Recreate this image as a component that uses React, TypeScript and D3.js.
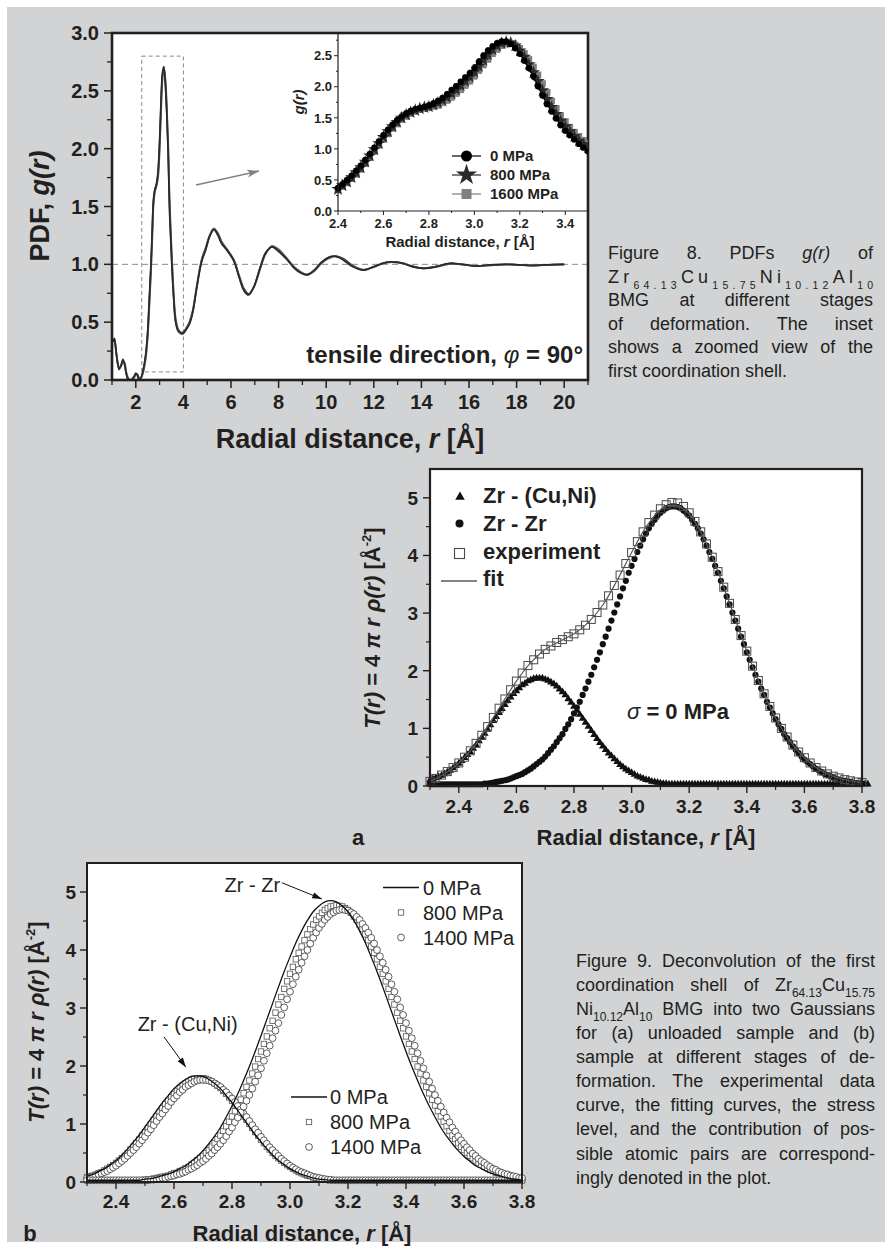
import React from 'react';
import * as d3 from 'd3';

const FONT = "'Liberation Sans', Arial, Helvetica, sans-serif";
const INK = '#231f20';
const BG = '#d1d3d4';

// ---------------- Figure 8: PDF g(r) ----------------
const mainR = [1.05,1.10,1.16,1.22,1.30,1.38,1.46,1.53,1.60,1.68,1.80,1.92,2.00,2.06,2.14,2.22,2.30,2.40,2.49,2.56,2.63,2.69,2.74,2.80,2.86,2.93,3.00,3.06,3.12,3.18,3.24,3.30,3.36,3.42,3.51,3.59,3.67,3.78,3.90,3.98,4.10,4.25,4.39,4.55,4.70,4.79,4.93,5.10,5.28,5.45,5.60,5.84,6.12,6.35,6.55,6.74,6.95,7.23,7.45,7.72,8.00,8.35,8.65,8.90,9.19,9.50,9.80,10.10,10.37,10.70,11.10,11.56,12.00,12.40,12.74,13.20,13.60,14.07,14.60,15.19,15.70,16.30,16.90,17.55,18.10,18.68,19.30,20.00];
const main0 = [0.33,0.36,0.28,0.16,0.09,0.13,0.18,0.13,0.05,0.00,0.00,0.03,0.06,0.04,0.00,0.02,0.08,0.20,0.40,0.68,0.98,1.30,1.56,1.65,1.69,1.80,2.08,2.42,2.66,2.71,2.55,2.30,1.95,1.44,1.00,0.70,0.50,0.42,0.40,0.40,0.43,0.48,0.58,0.78,0.96,1.04,1.12,1.24,1.30,1.25,1.18,1.12,1.03,0.88,0.77,0.735,0.80,0.98,1.10,1.15,1.11,1.04,0.97,0.93,0.91,0.95,1.02,1.06,1.07,1.04,0.98,0.95,0.98,1.01,1.02,1.01,0.98,0.965,0.98,1.01,1.00,0.985,0.995,1.00,0.995,0.99,0.995,1.00];
const main800 = [0.34,0.35,0.27,0.17,0.10,0.12,0.17,0.14,0.06,0.01,0.00,0.02,0.05,0.05,0.01,0.02,0.07,0.18,0.37,0.64,0.94,1.26,1.53,1.64,1.68,1.77,2.03,2.37,2.63,2.70,2.58,2.34,2.00,1.50,1.05,0.73,0.52,0.43,0.41,0.41,0.44,0.49,0.59,0.79,0.97,1.05,1.13,1.24,1.30,1.26,1.19,1.12,1.03,0.89,0.78,0.74,0.80,0.97,1.09,1.15,1.12,1.05,0.97,0.93,0.91,0.95,1.01,1.06,1.07,1.05,0.99,0.95,0.98,1.01,1.02,1.01,0.985,0.965,0.98,1.005,1.00,0.985,0.995,1.00,0.995,0.99,0.995,1.00];
const main1600 = [0.35,0.34,0.26,0.18,0.11,0.12,0.16,0.15,0.07,0.02,0.00,0.02,0.05,0.05,0.02,0.02,0.06,0.16,0.34,0.60,0.90,1.22,1.50,1.62,1.67,1.74,1.98,2.32,2.60,2.69,2.61,2.38,2.05,1.56,1.10,0.76,0.54,0.44,0.41,0.41,0.44,0.50,0.60,0.80,0.98,1.06,1.14,1.25,1.31,1.27,1.20,1.13,1.04,0.90,0.79,0.745,0.80,0.96,1.09,1.16,1.13,1.05,0.98,0.94,0.91,0.94,1.01,1.05,1.07,1.05,0.99,0.955,0.975,1.01,1.02,1.01,0.985,0.965,0.975,1.005,1.00,0.985,0.99,1.00,0.995,0.99,0.995,1.00];
const mainXTicks = [2,4,6,8,10,12,14,16,18,20];
const mainXMinor = [1,3,5,7,9,11,13,15,17,19,21];
const mainYTicks = [0,0.5,1,1.5,2,2.5,3];
const mainYMinor = [0.25,0.75,1.25,1.75,2.25,2.75];

// inset (first coordination shell)
const insetR = [2.40,2.42,2.44,2.46,2.48,2.50,2.52,2.54,2.56,2.58,2.60,2.62,2.64,2.66,2.68,2.70,2.72,2.74,2.76,2.78,2.80,2.82,2.84,2.86,2.88,2.90,2.92,2.94,2.96,2.98,3.00,3.02,3.04,3.06,3.08,3.10,3.12,3.14,3.16,3.18,3.20,3.22,3.24,3.26,3.28,3.30,3.32,3.34,3.36,3.38,3.40,3.42,3.44,3.46,3.48,3.50];
const inset0 = [0.37,0.43,0.50,0.57,0.65,0.73,0.82,0.92,1.02,1.12,1.22,1.31,1.39,1.46,1.52,1.57,1.61,1.64,1.66,1.68,1.70,1.73,1.77,1.82,1.88,1.95,2.01,2.08,2.15,2.22,2.30,2.40,2.50,2.58,2.65,2.70,2.73,2.73,2.69,2.62,2.53,2.42,2.30,2.17,2.01,1.86,1.72,1.60,1.49,1.38,1.29,1.22,1.15,1.08,1.02,0.96];
const inset800 = [0.35,0.41,0.47,0.54,0.62,0.70,0.79,0.89,0.99,1.09,1.19,1.28,1.36,1.43,1.50,1.55,1.59,1.62,1.65,1.67,1.68,1.71,1.74,1.78,1.83,1.89,1.95,2.02,2.09,2.16,2.24,2.33,2.43,2.52,2.60,2.66,2.70,2.72,2.71,2.66,2.58,2.48,2.36,2.23,2.09,1.94,1.80,1.67,1.56,1.45,1.36,1.28,1.20,1.13,1.07,1.02];
const inset1600 = [0.34,0.39,0.45,0.52,0.59,0.67,0.76,0.86,0.96,1.06,1.15,1.24,1.33,1.40,1.47,1.52,1.57,1.60,1.63,1.65,1.66,1.68,1.70,1.74,1.78,1.83,1.89,1.95,2.02,2.09,2.17,2.26,2.35,2.44,2.53,2.60,2.66,2.69,2.69,2.67,2.62,2.54,2.44,2.32,2.19,2.05,1.91,1.77,1.65,1.54,1.44,1.35,1.27,1.20,1.14,1.09];
const insetXTicks = [2.4,2.6,2.8,3.0,3.2,3.4];
const insetXMinor = [2.5,2.7,2.9,3.1,3.3,3.5];
const insetYTicks = [0,0.5,1,1.5,2,2.5];
const insetYMinor = [0.25,0.75,1.25,1.75,2.25,2.75];
const insetLegend = ['0 MPa', '800 MPa', '1600 MPa'];

// ---------------- Figure 9: deconvolution ----------------
// sampling grids (start / step of the r values of each series)
const R0 = 2.30;
const STEP_FINE = 0.01;
const STEP_MID = 0.02;
const STEP_FIT = 0.05;

// (a) sigma = 0 MPa
const aZrCuNi = [0.10,0.12,0.14,0.16,0.18,0.21,0.24,0.27,0.31,0.35,0.39,0.44,0.49,0.54,0.59,0.65,0.71,0.78,0.84,0.91,0.98,1.06,1.13,1.20,1.27,1.34,1.41,1.48,1.54,1.60,1.65,1.70,1.75,1.78,1.82,1.84,1.86,1.87,1.87,1.87,1.85,1.83,1.80,1.77,1.73,1.68,1.63,1.58,1.51,1.45,1.38,1.31,1.24,1.17,1.10,1.03,0.96,0.89,0.82,0.75,0.69,0.63,0.57,0.52,0.47,0.42,0.37,0.33,0.29,0.26,0.23,0.20,0.17,0.15,0.13,0.11,0.10,0.08,0.07,0.06,0.05,0.04,0.04,0.03,0.03,0.03,0.03,0.03,0.03,0.03,0.03,0.03,0.03,0.03,0.03,0.03,0.03,0.03,0.03,0.03,0.03,0.03,0.03,0.03,0.03,0.03,0.03,0.03,0.03,0.03,0.03,0.03,0.03,0.03,0.03,0.03,0.03,0.03,0.03,0.03,0.03,0.03,0.03,0.03,0.03,0.03,0.03,0.03,0.03,0.03,0.03,0.03,0.03,0.03,0.03,0.03,0.03,0.03,0.03,0.03,0.03,0.03,0.03,0.03,0.03,0.03,0.03,0.03,0.03,0.03,0.03,0.03,0.03];
const aZrZr = [0.03,0.03,0.03,0.03,0.03,0.03,0.03,0.03,0.03,0.03,0.03,0.03,0.03,0.03,0.03,0.03,0.03,0.03,0.03,0.04,0.04,0.05,0.06,0.07,0.08,0.09,0.10,0.11,0.13,0.15,0.17,0.19,0.21,0.24,0.27,0.30,0.34,0.38,0.42,0.46,0.51,0.57,0.63,0.69,0.76,0.83,0.90,0.99,1.07,1.16,1.26,1.36,1.46,1.58,1.69,1.81,1.93,2.06,2.19,2.32,2.46,2.59,2.73,2.87,3.01,3.15,3.29,3.43,3.56,3.70,3.82,3.94,4.06,4.17,4.28,4.38,4.47,4.55,4.62,4.69,4.74,4.78,4.82,4.84,4.85,4.85,4.84,4.82,4.78,4.74,4.69,4.62,4.55,4.47,4.38,4.28,4.17,4.06,3.94,3.82,3.70,3.56,3.43,3.29,3.15,3.01,2.87,2.73,2.59,2.46,2.32,2.19,2.06,1.93,1.81,1.69,1.58,1.46,1.36,1.26,1.16,1.07,0.99,0.90,0.83,0.76,0.69,0.63,0.57,0.51,0.46,0.42,0.38,0.34,0.30,0.27,0.24,0.21,0.19,0.17,0.15,0.13,0.11,0.10,0.09,0.08,0.07,0.06,0.05,0.04,0.04];
const aExperiment = [0.08,0.13,0.19,0.25,0.32,0.40,0.50,0.61,0.74,0.88,1.03,1.19,1.35,1.51,1.67,1.82,1.96,2.09,2.19,2.29,2.37,2.43,2.49,2.54,2.59,2.64,2.71,2.79,2.89,3.01,3.14,3.30,3.48,3.66,3.86,4.05,4.24,4.41,4.57,4.70,4.81,4.88,4.92,4.91,4.85,4.74,4.59,4.41,4.20,3.97,3.72,3.45,3.17,2.89,2.61,2.34,2.08,1.83,1.60,1.38,1.18,1.00,0.85,0.71,0.59,0.49,0.40,0.32,0.26,0.21,0.17,0.14,0.11,0.09,0.07,0.06];
const aFit = [0.08,0.21,0.40,0.67,1.03,1.43,1.82,2.14,2.37,2.51,2.64,2.84,3.14,3.57,4.05,4.49,4.79,4.87,4.72,4.31,3.72,3.03,2.34,1.71,1.18,0.78,0.49,0.29,0.17,0.10,0.06];
const aLegend = ['Zr - (Cu,Ni)', 'Zr - Zr', 'experiment', 'fit'];

// (b) 0, 800 and 1400 MPa
const b0CuNi = [0.10,0.13,0.18,0.23,0.30,0.37,0.46,0.57,0.69,0.81,0.95,1.09,1.23,1.37,1.49,1.61,1.70,1.77,1.82,1.83,1.82,1.77,1.70,1.61,1.49,1.37,1.23,1.09,0.95,0.81,0.69,0.57,0.46,0.37,0.30,0.23,0.18,0.13,0.10,0.07,0.05,0.04,0.03,0.03,0.03,0.03,0.03,0.03,0.03,0.03,0.03,0.03,0.03,0.03,0.03,0.03,0.03,0.03,0.03,0.03,0.03,0.03,0.03,0.03,0.03,0.03,0.03,0.03,0.03,0.03,0.03,0.03,0.03,0.03,0.03,0.03];
const b0ZrZr = [0.03,0.03,0.03,0.03,0.03,0.03,0.03,0.03,0.03,0.03,0.05,0.06,0.08,0.11,0.14,0.18,0.23,0.28,0.36,0.44,0.54,0.66,0.79,0.94,1.12,1.31,1.52,1.75,1.99,2.25,2.52,2.80,3.08,3.36,3.63,3.88,4.12,4.33,4.51,4.66,4.76,4.83,4.85,4.83,4.76,4.66,4.51,4.33,4.12,3.88,3.63,3.36,3.08,2.80,2.52,2.25,1.99,1.75,1.52,1.31,1.12,0.94,0.79,0.66,0.54,0.44,0.36,0.28,0.23,0.18,0.14,0.11,0.08,0.06,0.05,0.03];
const b800CuNi = [0.08,0.10,0.11,0.13,0.15,0.17,0.20,0.23,0.26,0.29,0.33,0.37,0.41,0.45,0.50,0.56,0.61,0.67,0.73,0.80,0.86,0.93,1.00,1.07,1.13,1.20,1.27,1.34,1.40,1.46,1.52,1.57,1.62,1.66,1.70,1.73,1.76,1.78,1.79,1.79,1.79,1.78,1.76,1.73,1.70,1.66,1.62,1.57,1.52,1.46,1.40,1.34,1.27,1.20,1.13,1.07,1.00,0.93,0.86,0.80,0.73,0.67,0.61,0.56,0.50,0.45,0.41,0.37,0.33,0.29,0.26,0.23,0.20,0.17,0.15,0.13,0.11,0.10,0.08,0.07,0.06,0.05,0.04,0.04,0.03,0.03,0.03,0.03,0.03,0.03,0.03,0.03,0.03,0.03,0.03,0.03,0.03,0.03,0.03,0.03,0.03,0.03,0.03,0.03,0.03,0.03,0.03,0.03,0.03,0.03,0.03,0.03,0.03,0.03,0.03,0.03,0.03,0.03,0.03,0.03,0.03,0.03,0.03,0.03,0.03,0.03,0.03,0.03,0.03,0.03,0.03,0.03,0.03,0.03,0.03,0.03,0.03,0.03,0.03,0.03,0.03,0.03,0.03,0.03,0.03,0.03,0.03,0.03,0.03,0.03,0.03];
const b800ZrZr = [0.03,0.03,0.03,0.03,0.03,0.03,0.03,0.03,0.03,0.03,0.03,0.03,0.03,0.03,0.03,0.03,0.03,0.03,0.03,0.03,0.04,0.04,0.05,0.06,0.07,0.08,0.09,0.10,0.11,0.13,0.15,0.16,0.19,0.21,0.24,0.26,0.30,0.33,0.37,0.41,0.45,0.50,0.55,0.61,0.67,0.74,0.80,0.88,0.96,1.04,1.13,1.22,1.32,1.42,1.53,1.64,1.75,1.87,1.99,2.12,2.25,2.38,2.51,2.65,2.78,2.92,3.06,3.19,3.33,3.46,3.59,3.71,3.84,3.95,4.06,4.17,4.27,4.36,4.44,4.52,4.58,4.64,4.69,4.72,4.75,4.76,4.77,4.76,4.75,4.72,4.69,4.64,4.58,4.52,4.44,4.36,4.27,4.17,4.06,3.95,3.84,3.71,3.59,3.46,3.33,3.19,3.06,2.92,2.78,2.65,2.51,2.38,2.25,2.12,1.99,1.87,1.75,1.64,1.53,1.42,1.32,1.22,1.13,1.04,0.96,0.88,0.80,0.74,0.67,0.61,0.55,0.50,0.45,0.41,0.37,0.33,0.30,0.26,0.24,0.21,0.19,0.16,0.15,0.13,0.11,0.10,0.09,0.08,0.07,0.06,0.05];
const b1400CuNi = [0.07,0.08,0.09,0.11,0.13,0.15,0.17,0.19,0.22,0.25,0.28,0.32,0.36,0.40,0.45,0.50,0.55,0.60,0.66,0.72,0.78,0.85,0.91,0.98,1.05,1.12,1.18,1.25,1.31,1.38,1.44,1.49,1.55,1.59,1.64,1.67,1.70,1.73,1.75,1.76,1.76,1.76,1.75,1.73,1.70,1.67,1.64,1.59,1.55,1.49,1.44,1.38,1.31,1.25,1.18,1.12,1.05,0.98,0.91,0.85,0.78,0.72,0.66,0.60,0.55,0.50,0.45,0.40,0.36,0.32,0.28,0.25,0.22,0.19,0.17,0.15,0.13,0.11,0.09,0.08,0.07,0.06,0.05,0.04,0.04,0.03,0.03,0.03,0.03,0.03,0.03,0.03,0.03,0.03,0.03,0.03,0.03,0.03,0.03,0.03,0.03,0.03,0.03,0.03,0.03,0.03,0.03,0.03,0.03,0.03,0.03,0.03,0.03,0.03,0.03,0.03,0.03,0.03,0.03,0.03,0.03,0.03,0.03,0.03,0.03,0.03,0.03,0.03,0.03,0.03,0.03,0.03,0.03,0.03,0.03,0.03,0.03,0.03,0.03,0.03,0.03,0.03,0.03,0.03,0.03,0.03,0.03,0.03,0.03,0.03,0.03];
const b1400ZrZr = [0.03,0.03,0.03,0.03,0.03,0.03,0.03,0.03,0.03,0.03,0.03,0.03,0.03,0.03,0.03,0.03,0.03,0.03,0.03,0.03,0.03,0.03,0.04,0.04,0.05,0.06,0.07,0.07,0.09,0.10,0.11,0.13,0.14,0.16,0.18,0.21,0.23,0.26,0.29,0.33,0.36,0.40,0.45,0.49,0.55,0.60,0.66,0.72,0.79,0.87,0.94,1.03,1.11,1.20,1.30,1.40,1.50,1.61,1.73,1.84,1.96,2.09,2.22,2.35,2.48,2.61,2.74,2.88,3.01,3.15,3.28,3.41,3.54,3.66,3.78,3.89,4.00,4.11,4.21,4.30,4.38,4.45,4.52,4.57,4.62,4.65,4.68,4.69,4.70,4.69,4.68,4.65,4.62,4.57,4.52,4.45,4.38,4.30,4.21,4.11,4.00,3.89,3.78,3.66,3.54,3.41,3.28,3.15,3.01,2.88,2.74,2.61,2.48,2.35,2.22,2.09,1.96,1.84,1.73,1.61,1.50,1.40,1.30,1.20,1.11,1.03,0.94,0.87,0.79,0.72,0.66,0.60,0.55,0.49,0.45,0.40,0.36,0.33,0.29,0.26,0.23,0.21,0.18,0.16,0.14,0.13,0.11,0.10,0.09,0.07,0.07];
const bLegend = ['0 MPa', '800 MPa', '1400 MPa'];

const devXTicks = [2.4,2.6,2.8,3.0,3.2,3.4,3.6,3.8];
const devXMinor = [2.3,2.5,2.7,2.9,3.1,3.3,3.5,3.7];
const devYTicks = [0,1,2,3,4,5];
const devYMinor = [0.5,1.5,2.5,3.5,4.5];

// ---------------- captions ----------------
type Seg = { t: string; sub?: boolean; it?: boolean };
const cap8: { segs: Seg[]; mode: string }[] = [
  { segs: [{ t: 'Figure 8. PDFs ' }, { t: 'g(r)', it: true }, { t: ' of' }], mode: 'word' },
  { segs: [{ t: 'Zr' }, { t: '64.13', sub: true }, { t: 'Cu' }, { t: '15.75', sub: true }, { t: 'Ni' }, { t: '10.12', sub: true }, { t: 'Al' }, { t: '10', sub: true }], mode: 'letter' },
  { segs: [{ t: 'BMG at different stages' }], mode: 'word' },
  { segs: [{ t: 'of deformation. The inset' }], mode: 'word' },
  { segs: [{ t: 'shows a zoomed view of the' }], mode: 'word' },
  { segs: [{ t: 'first coordination shell.' }], mode: 'none' },
];
const cap9: { segs: Seg[]; mode: string }[] = [
  { segs: [{ t: 'Figure 9. Deconvolution of the first' }], mode: 'word' },
  { segs: [{ t: 'coordination shell of Zr' }, { t: '64.13', sub: true }, { t: 'Cu' }, { t: '15.75', sub: true }], mode: 'word' },
  { segs: [{ t: 'Ni' }, { t: '10.12', sub: true }, { t: 'Al' }, { t: '10', sub: true }, { t: ' BMG into two Gaussians' }], mode: 'word' },
  { segs: [{ t: 'for (a) unloaded sample and (b)' }], mode: 'word' },
  { segs: [{ t: 'sample at different stages of de-' }], mode: 'word' },
  { segs: [{ t: 'formation. The experimental data' }], mode: 'word' },
  { segs: [{ t: 'curve, the fitting curves, the stress' }], mode: 'word' },
  { segs: [{ t: 'level, and the contribution of pos-' }], mode: 'word' },
  { segs: [{ t: 'sible atomic pairs are correspond-' }], mode: 'word' },
  { segs: [{ t: 'ingly denoted in the plot.' }], mode: 'none' },
];

let measureCtx: CanvasRenderingContext2D | null = null;
function textW(s: string, font: string): number {
  if (!measureCtx) measureCtx = document.createElement('canvas').getContext('2d');
  if (!measureCtx) return s.length * 9;
  measureCtx.font = font;
  return measureCtx.measureText(s).width;
}

function CapLine({ segs, mode, x, y, width, size, subSize, subDy }: any) {
  const fontOf = (s: Seg) => `${s.it ? 'italic ' : ''}${s.sub ? subSize : size}px 'Liberation Sans'`;
  const w = segs.reduce((a: number, s: Seg) => a + textW(s.t, fontOf(s)), 0);
  const style: any = {};
  if (mode === 'word') {
    const n = segs.reduce((a: number, s: Seg) => a + (s.t.match(/ /g) || []).length, 0);
    if (n > 0) style.wordSpacing = `${(width - w) / n}px`;
  } else if (mode === 'letter') {
    const n = segs.reduce((a: number, s: Seg) => a + s.t.length, 0);
    style.letterSpacing = `${(width - w) / (n - 1)}px`;
  }
  let inSub = false;
  return (
    <text x={x} y={y} fontSize={size} fill={INK} style={{ ...style, whiteSpace: 'pre' }} fontFamily={FONT}>
      {segs.map((s: Seg, i: number) => {
        let dy = 0;
        if (s.sub && !inSub) { dy = subDy; inSub = true; }
        else if (!s.sub && inSub) { dy = -subDy; inSub = false; }
        return (
          <tspan key={i} dy={dy} fontSize={s.sub ? subSize : size} fontStyle={s.it ? 'italic' : 'normal'}>{s.t}</tspan>
        );
      })}
    </text>
  );
}

const fmt1 = d3.format('.1f');
const fmt0 = d3.format('d');

export default function App() {
  // main scales
  const mx = d3.scaleLinear().domain([1, 21]).range([112, 588]);
  const my = d3.scaleLinear().domain([0, 3]).range([380, 33]);
  // inset scales
  const ix = d3.scaleLinear().domain([2.4, 3.5]).range([338, 588]);
  const iy = d3.scaleLinear().domain([0, 2.5]).range([211, 55.7]);
  // fig 9a
  const ax = d3.scaleLinear().domain([2.3, 3.8]).range([430, 862]);
  const ay = d3.scaleLinear().domain([0, 5.5]).range([786, 469]);
  // fig 9b
  const bx = d3.scaleLinear().domain([2.3, 3.8]).range([87, 522]);
  const by = d3.scaleLinear().domain([0, 5.5]).range([1182, 863]);

  const rFine = (i: number) => R0 + i * STEP_FINE;
  const rMid = (i: number) => R0 + i * STEP_MID;
  const rFit = (i: number) => R0 + i * STEP_FIT;

  const mkLine = (rx: (i: number) => number, sx: any, sy: any, curve: any = d3.curveMonotoneX) =>
    (vals: number[]) => d3.line<number>().x((_, i) => sx(rx(i))).y((d) => sy(d)).curve(curve)(vals) || '';

  const mainLine = mkLine((i) => mainR[i], mx, my, d3.curveCatmullRom.alpha(0.5));
  const insetLine = mkLine((i) => insetR[i], ix, iy, d3.curveLinear);

  const triPath = d3.symbol().type(d3.symbolTriangle).size(26)() || '';
  const starSmall = d3.symbol().type(d3.symbolStar).size(55)() || '';
  const starBig = d3.symbol().type(d3.symbolStar).size(140)() || '';
  const triLegend = d3.symbol().type(d3.symbolTriangle).size(40)() || '';

  const insetSeries = [
    { vals: inset1600, color: '#7d7d7d', kind: 'square' },
    { vals: inset800, color: '#333333', kind: 'star' },
    { vals: inset0, color: '#000000', kind: 'circle' },
  ];

  const boldT = { fontWeight: 'bold' as const, fill: INK };

  return (
    <svg width={885} height={1249} style={{ position: 'absolute', left: 0, top: 0 }} fontFamily={FONT}>
      <defs>
        <clipPath id="mainClip"><rect x={112} y={33} width={476} height={347} /></clipPath>
        <clipPath id="insetClip"><rect x={320} y={33} width={268} height={190} /></clipPath>
        <marker id="arrGray" viewBox="0 0 12 10" refX="12" refY="5" markerWidth="13" markerHeight="10" orient="auto" markerUnits="userSpaceOnUse">
          <path d="M0,1 L12,5 L0,9 L3,5 z" fill="#808080" />
        </marker>
        <marker id="arrBlk" viewBox="0 0 12 10" refX="12" refY="5" markerWidth="11" markerHeight="8" orient="auto" markerUnits="userSpaceOnUse">
          <path d="M0,1 L12,5 L0,9 z" fill="#111" />
        </marker>
      </defs>

      <rect x={7} y={7} width={878} height={1235} fill={BG} />

      {/* ================= Figure 8 main plot ================= */}
      <rect x={112} y={33} width={476} height={347} fill="#fff" />
      <line x1={mx(1)} x2={mx(21)} y1={my(1)} y2={my(1)} stroke="#8a8a8a" strokeWidth={1} strokeDasharray="6,4" />
      <rect x={mx(2.25)} y={my(2.8)} width={mx(4.0) - mx(2.25)} height={my(0.07) - my(2.8)} fill="none" stroke="#8a8a8a" strokeWidth={1} strokeDasharray="4,3" />
      <g clipPath="url(#mainClip)">
        <path d={mainLine(main1600)} fill="none" stroke="#6e6e6e" strokeWidth={1.8} />
        <path d={mainLine(main800)} fill="none" stroke="#4a4a4a" strokeWidth={1.8} />
        <path d={mainLine(main0)} fill="none" stroke="#2a2a2a" strokeWidth={1.6} />
      </g>
      <line x1={mx(4.53)} y1={my(1.686)} x2={mx(7.18)} y2={my(1.807)} stroke="#808080" strokeWidth={1.5} markerEnd="url(#arrGray)" />

      {/* main axes */}
      {mainYTicks.map((v) => (
        <g key={'my' + v}>
          <line x1={104} x2={112} y1={my(v)} y2={my(v)} stroke={INK} strokeWidth={1.5} />
          <text x={99} y={my(v) + 7} textAnchor="end" fontSize={20} {...boldT}>{fmt1(v)}</text>
        </g>
      ))}
      {mainYMinor.map((v) => (
        <line key={'mym' + v} x1={107} x2={112} y1={my(v)} y2={my(v)} stroke={INK} strokeWidth={1.3} />
      ))}
      {mainXTicks.map((v) => (
        <g key={'mx' + v}>
          <line x1={mx(v)} x2={mx(v)} y1={380} y2={388} stroke={INK} strokeWidth={1.5} />
          <text x={mx(v)} y={409} textAnchor="middle" fontSize={20} {...boldT}>{v}</text>
        </g>
      ))}
      {mainXMinor.map((v) => (
        <line key={'mxm' + v} x1={mx(v)} x2={mx(v)} y1={380} y2={385} stroke={INK} strokeWidth={1.3} />
      ))}
      <rect x={112} y={33} width={476} height={347} fill="none" stroke={INK} strokeWidth={2.6} />
      <text x={350} y={448} textAnchor="middle" fontSize={27} {...boldT}>
        Radial distance, <tspan fontStyle="italic">r</tspan> [Å]
      </text>
      <text transform="translate(49,206) rotate(-90)" textAnchor="middle" fontSize={27} {...boldT}>
        PDF, <tspan fontStyle="italic">g(r)</tspan>
      </text>
      <text x={583} y={363} textAnchor="end" fontSize={24} {...boldT}>
        tensile direction, <tspan fontStyle="italic" fontWeight="normal">φ</tspan> = 90°
      </text>

      {/* ================= inset ================= */}
      <g clipPath="url(#insetClip)">
        {insetSeries.map((s, k) => (
          <g key={'is' + k}>
            <path d={insetLine(s.vals)} fill="none" stroke={s.color} strokeWidth={1} />
            {s.vals.map((v, i) => {
              const cx = ix(insetR[i]);
              const cy = iy(v);
              if (s.kind === 'circle') return <circle key={i} cx={cx} cy={cy} r={3.2} fill="#000" />;
              if (s.kind === 'star') return <path key={i} d={starSmall} transform={`translate(${cx},${cy})`} fill="#2a2a2a" />;
              return <rect key={i} x={cx - 3} y={cy - 3} width={6} height={6} fill="#808080" stroke="#6a6a6a" strokeWidth={0.5} />;
            })}
          </g>
        ))}
      </g>
      <line x1={338} x2={338} y1={33} y2={211} stroke={INK} strokeWidth={1.2} />
      <line x1={338} x2={588} y1={211} y2={211} stroke={INK} strokeWidth={1.2} />
      {insetYTicks.map((v) => (
        <g key={'iy' + v}>
          <line x1={334} x2={338} y1={iy(v)} y2={iy(v)} stroke={INK} strokeWidth={1} />
          <text x={332} y={iy(v) + 4.7} textAnchor="end" fontSize={13} {...boldT}>{fmt1(v)}</text>
        </g>
      ))}
      {insetYMinor.map((v) => (
        <line key={'iym' + v} x1={336} x2={338} y1={iy(v)} y2={iy(v)} stroke={INK} strokeWidth={1} />
      ))}
      {insetXTicks.map((v) => (
        <g key={'ix' + v}>
          <line x1={ix(v)} x2={ix(v)} y1={211} y2={215} stroke={INK} strokeWidth={1} />
          <text x={ix(v)} y={228} textAnchor="middle" fontSize={13} {...boldT}>{fmt1(v)}</text>
        </g>
      ))}
      {insetXMinor.map((v) => (
        <line key={'ixm' + v} x1={ix(v)} x2={ix(v)} y1={211} y2={213} stroke={INK} strokeWidth={1} />
      ))}
      <text x={460} y={247} textAnchor="middle" fontSize={15} {...boldT}>
        Radial distance, <tspan fontStyle="italic">r</tspan> [Å]
      </text>
      <text transform="translate(304,102) rotate(-90)" textAnchor="middle" fontSize={15} {...boldT} fontStyle="italic">g(r)</text>
      {insetLegend.map((lab, k) => {
        const yy = 156 + k * 19;
        const col = ['#000', '#2a2a2a', '#7d7d7d'][k];
        return (
          <g key={'il' + k}>
            <line x1={452} x2={481} y1={yy} y2={yy} stroke={col} strokeWidth={1.2} />
            {k === 0 && <circle cx={466.5} cy={yy} r={5.5} fill="#000" />}
            {k === 1 && <path d={starBig} transform={`translate(466.5,${yy})`} fill="#2a2a2a" />}
            {k === 2 && <rect x={461.5} y={yy - 5} width={10} height={10} fill="#808080" />}
            <text x={490} y={yy + 5.3} fontSize={15} {...boldT}>{lab}</text>
          </g>
        );
      })}

      {/* caption fig 8 */}
      {cap8.map((l, k) => (
        <CapLine key={'c8' + k} segs={l.segs} mode={l.mode} x={608} y={259 + k * 23.5} width={265} size={18} subSize={10.5} subDy={6} />
      ))}

      {/* ================= Figure 9a ================= */}
      <rect x={430} y={469} width={432} height={317} fill="#fff" />
      {aZrCuNi.map((v, i) => (
        <path key={'at' + i} d={triPath} transform={`translate(${ax(rFine(i))},${ay(v)})`} fill="#111" />
      ))}
      {aZrZr.map((v, i) => (
        <circle key={'ac' + i} cx={ax(rFine(i))} cy={ay(v)} r={3.1} fill="#111" />
      ))}
      {aExperiment.map((v, i) => (
        <rect key={'ae' + i} x={ax(rMid(i)) - 4} y={ay(v) - 4} width={8} height={8} fill="none" stroke="#4a4a4a" strokeWidth={1} />
      ))}
      <path d={mkLine(rFit, ax, ay, d3.curveCatmullRom.alpha(0.5))(aFit)} fill="none" stroke="#5a5a5a" strokeWidth={1.2} />

      {devYTicks.map((v) => (
        <g key={'ay' + v}>
          <line x1={423} x2={430} y1={ay(v)} y2={ay(v)} stroke={INK} strokeWidth={1.4} />
          <text x={418} y={ay(v) + 6.8} textAnchor="end" fontSize={19} {...boldT}>{fmt0(v)}</text>
        </g>
      ))}
      {devYMinor.map((v) => (
        <line key={'aym' + v} x1={426} x2={430} y1={ay(v)} y2={ay(v)} stroke={INK} strokeWidth={1.2} />
      ))}
      {devXTicks.map((v) => (
        <g key={'ax' + v}>
          <line x1={ax(v)} x2={ax(v)} y1={786} y2={793} stroke={INK} strokeWidth={1.4} />
          <text x={ax(v)} y={813} textAnchor="middle" fontSize={19} {...boldT}>{fmt1(v)}</text>
        </g>
      ))}
      {devXMinor.map((v) => (
        <line key={'axm' + v} x1={ax(v)} x2={ax(v)} y1={786} y2={790} stroke={INK} strokeWidth={1.2} />
      ))}
      <rect x={430} y={469} width={432} height={317} fill="none" stroke={INK} strokeWidth={2.2} />

      {/* legend 9a */}
      <path d={triLegend} transform="translate(460,497)" fill="#111" />
      <circle cx={459.5} cy={523.5} r={4} fill="#111" />
      <rect x={454.5} y={548.5} width={10} height={10} fill="#fff" stroke="#4a4a4a" strokeWidth={1.1} />
      <line x1={441} x2={477} y1={581} y2={581} stroke="#5a5a5a" strokeWidth={1.3} />
      {aLegend.map((lab, k) => (
        <text key={'al' + k} x={483} y={503 + k * 27.8} fontSize={22} {...boldT}>{lab}</text>
      ))}
      <text x={627} y={719} fontSize={22} {...boldT}>
        <tspan fontStyle="italic" fontWeight="normal">σ</tspan> = 0 MPa
      </text>
      <text transform="translate(380,628) rotate(-90)" textAnchor="middle" fontSize={22} {...boldT}>
        <tspan fontStyle="italic">T(r)</tspan> = 4 <tspan fontStyle="italic">π r ρ(r)</tspan> [Å<tspan dy={-9} fontSize={13}>-2</tspan><tspan dy={9}>]</tspan>
      </text>
      <text x={358} y={845} textAnchor="middle" fontSize={22} {...boldT}>a</text>
      <text x={646} y={845} textAnchor="middle" fontSize={22} {...boldT}>
        Radial distance, <tspan fontStyle="italic">r</tspan> [Å]
      </text>

      {/* ================= Figure 9b ================= */}
      <rect x={87} y={863} width={435} height={319} fill="#fff" />
      {[b800CuNi, b800ZrZr].map((arr, k) => arr.map((v, i) => (
        <rect key={`bs${k}-${i}`} x={bx(rFine(i)) - 2.7} y={by(v) - 2.7} width={5.4} height={5.4} fill="#fff" stroke="#555" strokeWidth={0.8} />
      )))}
      {[b1400CuNi, b1400ZrZr].map((arr, k) => arr.map((v, i) => (
        <circle key={`bc${k}-${i}`} cx={bx(rFine(i))} cy={by(v)} r={3.4} fill="#fff" stroke="#333" strokeWidth={0.8} />
      )))}
      {[b0CuNi, b0ZrZr].map((arr, k) => (
        <path key={'bl' + k} d={mkLine(rMid, bx, by)(arr)} fill="none" stroke="#111" strokeWidth={1.3} />
      ))}

      {devYTicks.map((v) => (
        <g key={'by' + v}>
          <line x1={80} x2={87} y1={by(v)} y2={by(v)} stroke={INK} strokeWidth={1.4} />
          <text x={76} y={by(v) + 6.8} textAnchor="end" fontSize={19} {...boldT}>{fmt0(v)}</text>
        </g>
      ))}
      {devYMinor.map((v) => (
        <line key={'bym' + v} x1={83} x2={87} y1={by(v)} y2={by(v)} stroke={INK} strokeWidth={1.2} />
      ))}
      {devXTicks.map((v) => (
        <g key={'bx' + v}>
          <line x1={bx(v)} x2={bx(v)} y1={1182} y2={1189} stroke={INK} strokeWidth={1.4} />
          <text x={bx(v)} y={1208} textAnchor="middle" fontSize={19} {...boldT}>{fmt1(v)}</text>
        </g>
      ))}
      {devXMinor.map((v) => (
        <line key={'bxm' + v} x1={bx(v)} x2={bx(v)} y1={1182} y2={1186} stroke={INK} strokeWidth={1.2} />
      ))}
      <rect x={87} y={863} width={435} height={319} fill="none" stroke={INK} strokeWidth={2} />

      {/* annotations 9b */}
      <text x={bx(2.966)} y={by(5.0)} textAnchor="end" fontSize={20} fill={INK}>Zr - Zr</text>
      <line x1={bx(2.972)} y1={by(5.16)} x2={bx(3.11)} y2={by(4.88)} stroke="#111" strokeWidth={1} markerEnd="url(#arrBlk)" />
      <text x={bx(2.647)} y={by(2.6)} textAnchor="middle" fontSize={20} fill={INK}>Zr - (Cu,Ni)</text>
      <line x1={bx(2.566)} y1={by(2.5)} x2={bx(2.641)} y2={by(1.98)} stroke="#111" strokeWidth={1} markerEnd="url(#arrBlk)" />

      {[{ lx: 383, tx: 423, y0: 887.5 }, { lx: 291, tx: 330, y0: 1097 }].map((g, gi) => (
        <g key={'bleg' + gi}>
          {bLegend.map((lab, k) => {
            const yy = g.y0 + k * 25;
            return (
              <g key={k}>
                {k === 0 && <line x1={g.lx} x2={g.lx + 36} y1={yy} y2={yy} stroke="#111" strokeWidth={1.3} />}
                {k === 1 && <rect x={g.lx + 15.3} y={yy - 2.7} width={5.4} height={5.4} fill="#fff" stroke="#555" strokeWidth={0.8} />}
                {k === 2 && <circle cx={g.lx + 18} cy={yy} r={3.4} fill="#fff" stroke="#333" strokeWidth={0.8} />}
                <text x={g.tx} y={yy + 7} fontSize={20} fill={INK}>{lab}</text>
              </g>
            );
          })}
        </g>
      ))}

      <text transform="translate(44,1022) rotate(-90)" textAnchor="middle" fontSize={22} {...boldT}>
        <tspan fontStyle="italic">T(r)</tspan> = 4 <tspan fontStyle="italic">π r ρ(r)</tspan> [Å<tspan dy={-9} fontSize={13}>-2</tspan><tspan dy={9}>]</tspan>
      </text>
      <text x={30} y={1241} textAnchor="middle" fontSize={22} {...boldT}>b</text>
      <text x={302} y={1241} textAnchor="middle" fontSize={22} {...boldT}>
        Radial distance, <tspan fontStyle="italic">r</tspan> [Å]
      </text>

      {/* caption fig 9 */}
      {cap9.map((l, k) => (
        <CapLine key={'c9' + k} segs={l.segs} mode={l.mode} x={576} y={966.7 + k * 24.1} width={299} size={18} subSize={12} subDy={6} />
      ))}
    </svg>
  );
}
